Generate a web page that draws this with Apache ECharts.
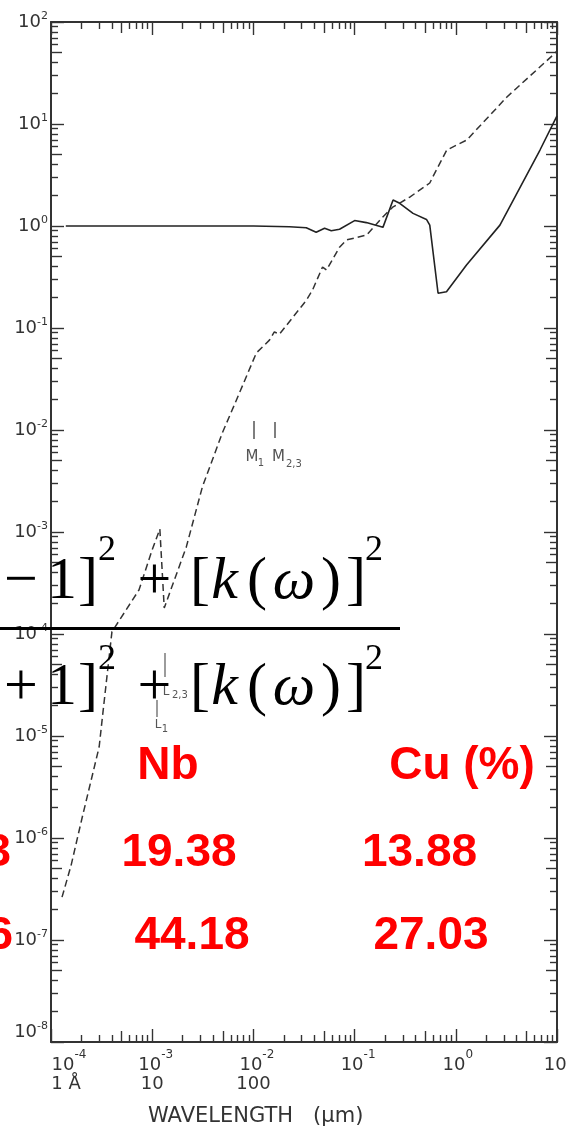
<!DOCTYPE html>
<html>
<head>
<meta charset="utf-8">
<script src="https://cdn.jsdelivr.net/npm/echarts@6/dist/echarts.min.js"></script>
<style>
  html, body { margin: 0; padding: 0; background: #fff; }
  #chart { width: 567px; height: 1132px; }
</style>
</head>
<body>
<div id="chart"></div>
<script>
// Optical constants versus wavelength (µm), log–log.
// n: solid curve, k: dashed curve.
const nWavelength = [1.4e-4, 1e-3, 1e-2, 0.0227, 0.0333, 0.0417, 0.0505, 0.0588, 0.071, 0.1, 0.1306,
  0.1905, 0.24, 0.279, 0.378, 0.513, 0.553, 0.668, 0.809, 1.276, 2.73, 6.79, 10];
const nValues = [1.0, 1.0, 1.0, 0.984, 0.96, 0.868, 0.95, 0.90, 0.93, 1.13, 1.08,
  0.97, 1.80, 1.67, 1.33, 1.16, 1.02, 0.219, 0.227, 0.415, 1.02, 5.56, 12];

const kWavelength = [1.285e-4, 1.58e-4, 2.03e-4, 2.99e-4, 3.2e-4, 4.0e-4, 7.4e-4, 1.0e-3, 1.19e-3, 1.315e-3,
  2.17e-3, 3.13e-3, 4.93e-3, 6.8e-3, 0.0107, 0.0144, 0.0161, 0.0181, 0.0335, 0.0384, 0.0482, 0.0528,
  0.071, 0.0834, 0.1315, 0.189, 0.238, 0.351, 0.553, 0.592, 0.815, 1.285, 3.2, 9.12, 10];
const kValues = [2.63e-7, 5.4e-7, 1.58e-6, 7.8e-6, 1.44e-5, 1.05e-4, 2.7e-4, 6.7e-4, 1.07e-3, 1.8e-4,
  7.1e-4, 2.76e-3, 9.35e-3, 0.0197, 0.057, 0.076, 0.0914, 0.087, 0.188, 0.236, 0.396, 0.37,
  0.62, 0.73, 0.817, 1.22, 1.53, 1.92, 2.64, 3.02, 5.56, 6.97, 18.4, 47.4, 52];

// Axis decades and the extra wavelength line under the first x labels
const xDecades = [1e-4, 1e-3, 1e-2, 1e-1, 1e0, 1e1];
const xSecondLine = ['1 Å', '10', '100', '', '', ''];
const yDecades = [1e-8, 1e-7, 1e-6, 1e-5, 1e-4, 1e-3, 1e-2, 1e-1, 1e0, 1e1, 1e2];

// Table values printed in red
const tableHead = ['Nb', 'Cu (%)'];
const tableRow1 = ['3', '19.38', '13.88'];
const tableRow2 = ['6', '44.18', '27.03'];

const AX = '#333';
const SANS = 'DejaVu Sans';
const SERIF = 'Liberation Serif';

function minorValues(lo, hi, mults) {
  const out = [];
  for (let e = lo; e < hi; e++) {
    for (const m of mults) out.push(+(m * Math.pow(10, e)).toPrecision(6));
  }
  return out;
}
const xMinor = minorValues(-4, 1, [2, 3, 4, 6, 7, 8, 9]);
const xFive = minorValues(-4, 1, [5]);
const yMinor = minorValues(-8, 2, [2, 3, 4, 6, 7, 8, 9]);
const yFive = minorValues(-8, 2, [5]);

function expOf(v) { return Math.round(Math.log10(v)); }
function expText(e) { return e < 0 ? '-' + (-e) : String(e); }

function tickAxis(isX, position, values, len, extra) {
  const ax = {
    type: 'log', logBase: 10,
    min: isX ? 1e-4 : 1e-8, max: isX ? 10 : 1e2,
    position: position,
    axisLine: { show: false, onZero: false },
    axisTick: { show: true, inside: true, length: len, customValues: values,
      lineStyle: { color: AX, width: 1.4 } },
    axisLabel: { show: false },
    splitLine: { show: false },
    minorTick: { show: false }
  };
  return Object.assign(ax, extra || {});
}

const xLabelText = { fontFamily: SANS, fontSize: 18, color: AX };
const xMain = tickAxis(true, 'bottom', xDecades, 13, {
  axisLine: { show: true, onZero: false, lineStyle: { color: AX, width: 2 } },
  axisLabel: {
    show: true, customValues: xDecades, margin: 7,
    showMinLabel: true, showMaxLabel: true,
    formatter: function (v) {
      const e = expOf(v);
      const idx = xDecades.findIndex(d => Math.abs(Math.log10(d) - e) < 1e-6);
      // the first label sits a little to the right of the corner
      const base = idx === 0 ? '{bf|10}' : (e < 0 ? '{bn|10}' : '{bp|10}');
      const sStyle = idx === 0 ? 'cf' : 'c';
      const second = idx >= 0 && xSecondLine[idx] ? '\n{' + sStyle + '|' + xSecondLine[idx] + '}' : '';
      return base + '{s|' + expText(e) + '}' + second;
    },
    rich: {
      bf: Object.assign({ lineHeight: 32, padding: [0, 0, 0, 36] }, xLabelText),
      bn: Object.assign({ lineHeight: 32, padding: [0, 0, 0, 7] }, xLabelText),
      bp: Object.assign({ lineHeight: 32, padding: [0, 0, 0, 4] }, xLabelText),
      s: { fontFamily: SANS, fontSize: 12, color: AX, lineHeight: 12, verticalAlign: 'top' },
      c: Object.assign({ lineHeight: 6 }, xLabelText),
      cf: Object.assign({ lineHeight: 6, padding: [0, 0, 0, 30] }, xLabelText)
    }
  }
});

const yMain = tickAxis(false, 'left', yDecades, 13, {
  axisLine: { show: true, onZero: false, lineStyle: { color: AX, width: 2 } },
  axisLabel: {
    show: true, customValues: yDecades, margin: 3,
    showMinLabel: true, showMaxLabel: true,
    formatter: function (v) {
      const e = expOf(v);
      // the bottom label is lifted clear of the x labels
      const tail = e === -8 ? '\n{gap| }' : '';
      return '{b|10}{s|' + expText(e) + '}' + tail;
    },
    rich: {
      b: { fontFamily: SANS, fontSize: 18, color: AX, lineHeight: 22 },
      s: { fontFamily: SANS, fontSize: 11, color: AX, lineHeight: 12, verticalAlign: 'top' },
      gap: { fontSize: 10, lineHeight: 20 }
    }
  }
});

const xAxes = [
  xMain,
  tickAxis(true, 'bottom', xMinor, 7),
  tickAxis(true, 'bottom', xFive, 11),
  tickAxis(true, 'top', xDecades, 13, {
    axisLine: { show: true, onZero: false, lineStyle: { color: AX, width: 2 } } }),
  tickAxis(true, 'top', xMinor, 7),
  tickAxis(true, 'top', xFive, 11)
];
const yAxes = [
  yMain,
  tickAxis(false, 'left', yMinor, 7),
  tickAxis(false, 'left', yFive, 11),
  tickAxis(false, 'right', yDecades, 13, {
    axisLine: { show: true, onZero: false, lineStyle: { color: AX, width: 2 } } }),
  tickAxis(false, 'right', yMinor, 7),
  tickAxis(false, 'right', yFive, 11)
];

// Text helpers for the overlaid formula and table
function txt(x, y, text, style) {
  return { type: 'text', x: x, y: y, z: 100,
    style: Object.assign({ text: text, fill: '#000', align: 'center', verticalAlign: 'middle' }, style) };
}
const F = { fontFamily: SERIF, fontSize: 60 };
const FI = { fontFamily: SERIF, fontSize: 60, fontStyle: 'italic' };
const FS = { fontFamily: SERIF, fontSize: 36 };
const RED = { fontFamily: 'Liberation Sans', fontWeight: 'bold', fontSize: 46, fill: '#ff0000' };
const GRAY = { fontFamily: SANS, fontSize: 15, fill: '#555' };
const GRAYS = { fontFamily: SANS, fontSize: 10, fill: '#555' };

function formulaRow(cy, supY, lead) {
  return [
    txt(21, cy, lead, F),
    txt(62, cy, '1', F),
    txt(88, cy, ']', F),
    txt(107, supY, '2', FS),
    txt(154.5, cy, '+', F),
    txt(200, cy, '[', F),
    txt(224.5, cy, 'k', FI),
    txt(257, cy, '(', F),
    txt(294, cy, 'ω', FI),
    txt(331, cy, ')', F),
    txt(356, cy, ']', F),
    txt(374, supY, '2', FS)
  ];
}

const graphics = [].concat(
  formulaRow(582, 551, '−'),
  [{ type: 'rect', z: 100, shape: { x: 0, y: 627, width: 400, height: 3 }, style: { fill: '#000' } }],
  formulaRow(688, 660, '+'),
  [
    txt(168, 766, tableHead[0], RED),
    txt(462, 766, tableHead[1], RED),
    txt(11, 853.5, tableRow1[0], Object.assign({}, RED, { align: 'right' })),
    txt(179, 853.5, tableRow1[1], RED),
    txt(419.5, 853.5, tableRow1[2], RED),
    txt(13, 936.5, tableRow2[0], Object.assign({}, RED, { align: 'right' })),
    txt(192, 936.5, tableRow2[1], RED),
    txt(431, 936.5, tableRow2[2], RED),

    // absorption-edge markers
    { type: 'line', z: 50, shape: { x1: 254, y1: 421, x2: 254, y2: 439 }, style: { stroke: '#555', lineWidth: 1.5 } },
    { type: 'line', z: 50, shape: { x1: 275, y1: 422, x2: 275, y2: 438 }, style: { stroke: '#555', lineWidth: 1.5 } },
    txt(252, 457, 'M', GRAY),
    txt(261, 463, '1', GRAYS),
    txt(278.5, 457, 'M', GRAY),
    txt(286, 464, '2,3', Object.assign({}, GRAYS, { align: 'left' })),
    { type: 'line', z: 50, shape: { x1: 165, y1: 653, x2: 165, y2: 677 }, style: { stroke: '#666', lineWidth: 1.3 } },
    txt(166, 692, 'L', Object.assign({}, GRAY, { fontSize: 12 })),
    txt(172, 695, '2,3', Object.assign({}, GRAYS, { align: 'left' })),
    { type: 'line', z: 50, shape: { x1: 157, y1: 700, x2: 157, y2: 717 }, style: { stroke: '#666', lineWidth: 1.3 } },
    txt(158, 725, 'L', Object.assign({}, GRAY, { fontSize: 12 })),
    txt(165, 729, '1', GRAYS),

    txt(148, 1117, 'WAVELENGTH   (µm)', { fontFamily: SANS, fontSize: 21, fill: AX, align: 'left' })
  ]
);

const chart = echarts.init(document.getElementById('chart'), null, { renderer: 'canvas' });
chart.setOption({
  animation: false,
  backgroundColor: '#fff',
  grid: { left: 51, right: 10, top: 22, bottom: 90, containLabel: false, outerBoundsMode: 'none' },
  xAxis: xAxes,
  yAxis: yAxes,
  series: [
    {
      type: 'line', xAxisIndex: 0, yAxisIndex: 0,
      data: nWavelength.map((w, i) => [w, nValues[i]]),
      symbol: 'none', silent: true,
      lineStyle: { color: '#222', width: 1.6 }
    },
    {
      type: 'line', xAxisIndex: 0, yAxisIndex: 0,
      data: kWavelength.map((w, i) => [w, kValues[i]]),
      symbol: 'none', silent: true,
      lineStyle: { color: '#333', width: 1.5, type: [7, 4] }
    }
  ],
  graphic: { elements: graphics }
});
</script>
</body>
</html>
